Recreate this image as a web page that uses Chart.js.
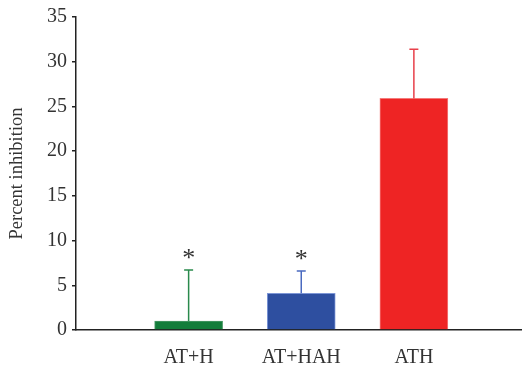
<!DOCTYPE html>
<html>
<head>
<meta charset="utf-8">
<script src="https://cdn.jsdelivr.net/npm/chart.js@4.4.1/dist/chart.umd.min.js"></script>
<style>
  html, body { margin: 0; padding: 0; background: #fff; }
  #wrap { width: 522px; height: 366px; position: relative; }
</style>
</head>
<body>
<div id="wrap"><canvas id="chart"></canvas></div>
<script>
// values
const categories = ["AT+H", "AT+HAH", "ATH"];
const positions = [1, 2, 3];
const inhibition = [1.0, 4.1, 25.9];
const errorUp = [5.7, 2.5, 5.5];
const marks = ["*", "*", ""];
const yTicks = [0, 5, 10, 15, 20, 25, 30, 35];

const barColors = ["#137d3a", "#2e4fa0", "#ee2424"];
const edgeColors = ["#4c9a68", "#7d96d6", "#f47a7a"];
const errColors = ["#2a8a4c", "#4a6ac0", "#e8404a"];

const SERIF = "'Liberation Serif', 'DejaVu Serif', serif";

const errorBars = {
  id: "errorBars",
  afterDatasetsDraw(chart) {
    const { ctx, scales: { y } } = chart;
    const meta = chart.getDatasetMeta(0);
    meta.data.forEach((bar, i) => {
      const top = y.getPixelForValue(inhibition[i] + errorUp[i]);
      const base = y.getPixelForValue(inhibition[i]);
      ctx.save();
      ctx.strokeStyle = errColors[i];
      ctx.lineWidth = 1.5;
      ctx.beginPath();
      ctx.moveTo(bar.x, base);
      ctx.lineTo(bar.x, top);
      ctx.moveTo(bar.x - 4.5, top);
      ctx.lineTo(bar.x + 4.5, top);
      ctx.stroke();
      if (marks[i]) {
        ctx.fillStyle = "#333";
        ctx.font = "26px " + SERIF;
        ctx.textAlign = "center";
        ctx.textBaseline = "middle";
        ctx.fillText(marks[i], bar.x, top - 11);
      }
      ctx.restore();
    });
  }
};

new Chart(document.getElementById("chart"), {
  type: "bar",
  data: {
    datasets: [{
      data: positions.map((p, i) => ({ x: p, y: inhibition[i] })),
      backgroundColor: barColors,
      borderColor: edgeColors,
      borderWidth: 1,
      barThickness: 68
    }]
  },
  options: {
    responsive: true,
    maintainAspectRatio: false,
    animation: false,
    layout: { padding: { top: 15, right: 0, left: 0, bottom: 0 } },
    plugins: { legend: { display: false }, tooltip: { enabled: false } },
    scales: {
      x: {
        type: "linear",
        offset: false,
        min: 0,
        max: 3.96,
        afterBuildTicks: (s) => { s.ticks = positions.map((v) => ({ value: v })); },
        afterFit: (s) => { s.height = 36; },
        grid: { display: false, drawTicks: false, offset: false },
        border: { display: true, color: "#222", width: 1.5 },
        ticks: {
          color: "#333",
          padding: 16,
          maxRotation: 0,
          font: { family: SERIF, size: 20 },
          callback: (v) => categories[positions.indexOf(v)] || ""
        }
      },
      y: {
        min: 0,
        max: 35,
        afterBuildTicks: (s) => { s.ticks = yTicks.map((v) => ({ value: v })); },
        afterFit: (s) => { s.width = 76; },
        grid: { drawOnChartArea: false, drawTicks: true, tickLength: 4, color: "#222", lineWidth: 1.5 },
        border: { display: true, color: "#222", width: 1.5 },
        ticks: {
          color: "#333",
          padding: 5,
          font: { family: SERIF, size: 20 }
        },
        title: {
          display: true,
          text: "Percent inhibition",
          color: "#333",
          padding: { top: 6, bottom: 0 },
          font: { family: SERIF, size: 18.5 }
        }
      }
    }
  },
  plugins: [errorBars]
});
</script>
</body>
</html>
